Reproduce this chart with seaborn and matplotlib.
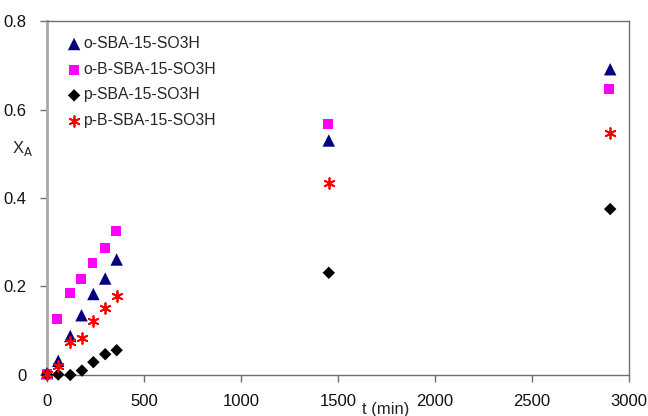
import pandas as pd
import matplotlib
matplotlib.use('Agg')
import matplotlib.pyplot as plt
import seaborn as sns

# Data
t_o = [0, 58, 120, 178, 239, 300, 359, 1452, 2902]
x_o_sba = [0.004, 0.032, 0.088, 0.135, 0.183, 0.218, 0.261, 0.530, 0.691]

t_ob = [0, 51, 117, 175, 235, 297, 354, 1446, 2895]
x_ob_sba = [0.003, 0.126, 0.185, 0.216, 0.253, 0.287, 0.326, 0.567, 0.646]

t_p = [0, 58, 120, 180, 239, 300, 359, 1452, 2902]
x_p_sba = [0.001, 0.001, 0.0, 0.010, 0.029, 0.047, 0.056, 0.231, 0.375]

t_pb = [0, 58, 120, 178, 239, 300, 359, 1452, 2902]
x_pb_sba = [0.002, 0.020, 0.075, 0.084, 0.123, 0.151, 0.179, 0.433, 0.546]

labels = ['o-SBA-15-SO3H', 'o-B-SBA-15-SO3H', 'p-SBA-15-SO3H', 'p-B-SBA-15-SO3H']
series = [(t_o, x_o_sba), (t_ob, x_ob_sba), (t_p, x_p_sba), (t_pb, x_pb_sba)]
colors = ['#000080', '#FF00FF', '#000000', '#FF0000']
markers = ['^', 's', 'D', (6, 2, 0)]
sizes = [80, 50, 40, 60]

sns.set_style('white')
plt.rcParams['font.family'] = ['Liberation Sans', 'DejaVu Sans']

fig = plt.figure(figsize=(6.48, 4.16), dpi=100)
ax = fig.add_axes([0.0725, 0.0986, 0.971 - 0.0725, 0.9495 - 0.0986])

for lab, (t, xa), c, m, s in zip(labels, series, colors, markers, sizes):
    df = pd.DataFrame({'t': t, 'XA': xa})
    kw = dict(edgecolor='none', linewidth=0) if m != (6, 2, 0) else dict(linewidth=1.3)
    sns.scatterplot(data=df, x='t', y='XA', ax=ax, marker=m, color=c, s=s,
                    label=lab, clip_on=False, zorder=3, **kw)

ax.set_xlim(0, 3000)
ax.set_ylim(0, 0.8)
ax.set_xticks([0, 500, 1000, 1500, 2000, 2500, 3000])
ax.set_yticks([0, 0.2, 0.4, 0.6, 0.8])
ax.set_yticklabels(['0', '0.2', '0.4', '0.6', '0.8'])
ax.set_xlabel('')
ax.set_ylabel('')

for side in ['top', 'right', 'bottom']:
    ax.spines[side].set_color('#707070')
    ax.spines[side].set_linewidth(1.0)
ax.spines['left'].set_color('#a8a8a8')
ax.spines['left'].set_linewidth(2.0)

ax.tick_params(axis='both', direction='out', length=5, width=1, color='#707070',
               labelsize=12, labelcolor='#111111', bottom=True, left=True)
ax.tick_params(axis='x', pad=9)
ax.tick_params(axis='y', pad=10)

fig.text(23 / 648, 1 - 148 / 416, r'X$_\mathrm{A}$', fontsize=12, ha='center', va='center')
fig.text(386 / 648, 1 - 402 / 416, 't (min)', fontsize=12, ha='center', va='top')

ax.legend(loc='upper left', bbox_to_anchor=(0.025, 0.975), frameon=False, fontsize=11.3,
          handlelength=0.8, handletextpad=0.2, labelspacing=0.68, borderaxespad=0)

fig.savefig('out.png', dpi=100)
